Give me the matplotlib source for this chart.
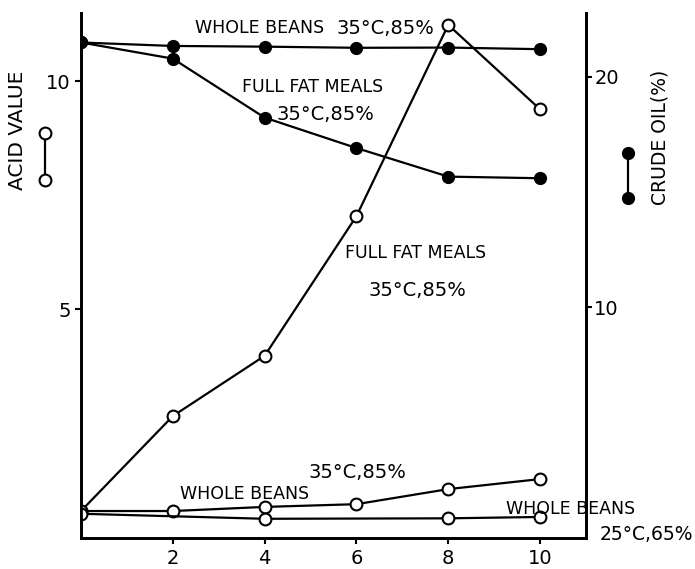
import matplotlib.pyplot as plt
from matplotlib.lines import Line2D

# storage time (x) and measured values
weeks = [0, 2, 4, 6, 8, 10]
weeks_25 = [0, 4, 8, 10]

# acid value (left axis, open circles)
acid_meal_35 = [0.58, 2.66, 3.98, 7.04, 11.23, 9.38]
acid_beans_35 = [0.58, 0.58, 0.67, 0.73, 1.06, 1.28]
acid_beans_25 = [0.52, 0.41, 0.42, 0.45]

# crude oil % (right axis, filled circles)
oil_beans_35 = [21.48, 21.33, 21.30, 21.25, 21.26, 21.19]
oil_meal_35 = [21.48, 20.78, 18.22, 16.90, 15.66, 15.59]

x_ticks = [2, 4, 6, 8, 10]
left_ticks = [5, 10]
right_ticks = [10, 20]

W, H = 695, 569
fig = plt.figure(figsize=(W / 100, H / 100), dpi=100)
ax = fig.add_axes([81 / W, 1 - 537.5 / H, (586 - 81) / W, (537.5 - 13) / H])
ax2 = ax.twinx()

lw = 1.6
open_kw = dict(color="black", lw=lw, marker="o", markersize=8.5,
               markerfacecolor="white", markeredgecolor="black", markeredgewidth=1.5)
fill_kw = dict(color="black", lw=lw, marker="o", markersize=8.5,
               markerfacecolor="black", markeredgecolor="black")

ax.plot(weeks, acid_meal_35, zorder=3, **open_kw)
ax.plot(weeks, acid_beans_35, zorder=3, **open_kw)
ax.plot(weeks_25, acid_beans_25, zorder=3, **open_kw)
ax2.plot(weeks, oil_beans_35, zorder=3, **fill_kw)
ax2.plot(weeks, oil_meal_35, zorder=3, **fill_kw)

ax.set_xlim(0, 11)
ax.set_ylim(0, 11.49)
ax2.set_ylim(0, 22.76)

ax.set_xticks(x_ticks)
ax.set_yticks(left_ticks)
ax2.set_yticks(right_ticks)
ax.set_xticklabels([str(t) for t in x_ticks])
ax.set_yticklabels([str(t) for t in left_ticks])
ax2.set_yticklabels([str(t) for t in right_ticks])

for a in (ax, ax2):
    a.spines["top"].set_visible(False)
    for s in ("left", "right", "bottom"):
        a.spines[s].set_linewidth(2)
    a.tick_params(width=1.5, length=4, labelsize=14, direction="out")
ax.tick_params(axis="x", pad=4)
ax2.tick_params(axis="y", pad=2)


def label(x, y, s, size, ha="left"):
    fig.text(x / W, 1 - y / H, s, fontsize=size, va="center", ha=ha)


small, big = 12.5, 14
label(195, 28, "WHOLE BEANS", small)
label(336, 28, "35°C,85%", big)
label(242, 87, "FULL FAT MEALS", small)
label(276, 114, "35°C,85%", big)
label(345, 253, "FULL FAT MEALS", small)
label(369, 290, "35°C,85%", big)
label(308, 472, "35°C,85%", big)
label(180, 494, "WHOLE BEANS", small)
label(506, 509, "WHOLE BEANS", small)
label(693, 535, "25°C,65%", 13.5, ha="right")

fig.text(18 / W, 1 - 130 / H, "ACID VALUE", rotation=90, fontsize=14.5,
         ha="center", va="center")
fig.text(660 / W, 1 - 137 / H, "CRUDE OIL(%)", rotation=90, fontsize=13.5,
         ha="center", va="center")

# key symbols beside the axis titles
fig.add_artist(Line2D([45 / W, 45 / W], [1 - 133 / H, 1 - 180 / H],
                      transform=fig.transFigure, **open_kw))
fig.add_artist(Line2D([628 / W, 628 / W], [1 - 153 / H, 1 - 198 / H],
                      transform=fig.transFigure, **fill_kw))

plt.savefig("out.png", dpi=100)
